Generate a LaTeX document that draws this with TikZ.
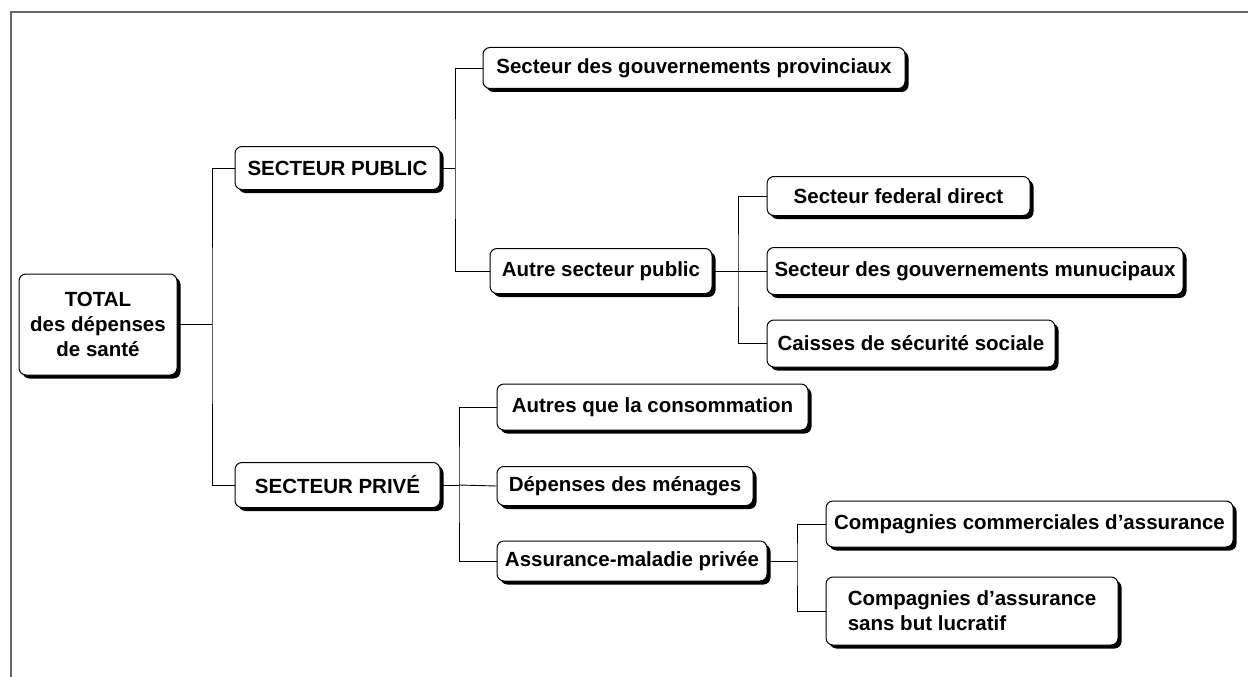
\documentclass[tikz,border=0pt]{standalone}
\usepackage{fontspec}
\setmainfont{Liberation Sans}
\usetikzlibrary{shadows}
\begin{document}
\begin{tikzpicture}[x=1pt, y=-1pt,
	box/.style={draw, line width=1pt, rounded corners=7pt, fill=white, align=center, inner sep=0pt,
		font=\fontsize{20.5}{25}\selectfont\bfseries,
		drop shadow={shadow xshift=3.5pt, shadow yshift=-3.5pt, fill=black, opacity=1}},
	link/.style={line width=0.9pt}]
	\useasboundingbox (0,0) rectangle (1248,677);
	\draw [black!60, line width=2pt] (11,677) -- (11,12) -- (1248,12);

	\node [box, minimum width=158pt, minimum height=101pt] (total) at (98,324.5) {TOTAL\\des dépenses\\de santé};
	\node [box, minimum width=205pt, minimum height=43pt] (pub) at (337.5,168) {SECTEUR PUBLIC};
	\node [box, minimum width=205pt, minimum height=45pt] (priv) at (337.5,485) {SECTEUR PRIVÉ};
	\node [box, minimum width=422pt, minimum height=41pt] (prov) at (694,68) {Secteur des gouvernements provinciaux};
	\node [box, minimum width=222pt, minimum height=45pt] (autre) at (601,271) {Autre secteur public};
	\node [box, minimum width=263pt, minimum height=39pt] (fed) at (898.5,196) {Secteur federal direct};
	\node [box, minimum width=416pt, minimum height=47pt] (mun) at (975,271) {Secteur des gouvernements munucipaux};
	\node [box, minimum width=288pt, minimum height=47pt] (cais) at (911,343.5) {Caisses de sécurité sociale};
	\node [box, minimum width=311pt, minimum height=46pt] (conso) at (652.5,407) {Autres que la consommation};
	\node [box, minimum width=256pt, minimum height=39pt] (men) at (625,486) {Dépenses des ménages};
	\node [box, minimum width=270pt, minimum height=40pt] (assur) at (632,561) {Assurance-maladie privée};
	\node [box, minimum width=407pt, minimum height=46pt] (comm) at (1029.5,524) {Compagnies commerciales d’assurance};
	\node [box, minimum width=292pt, minimum height=68pt, align=left] (lucr) at (972,611) {Compagnies d’assurance\\sans but lucratif};

	\coordinate (jtot) at (212,324.5);
	\coordinate (jpub) at (455,168);
	\coordinate (jaut) at (738,271);
	\coordinate (jpriv) at (459,485);
	\coordinate (jass) at (797,561);

	\draw [link] (total) -- (jtot);
	\draw [link] (pub.west) -| (jtot) |- (priv.west);
	\draw [link] (pub) -- (jpub);
	\draw [link] (prov.west) -| (jpub) |- (autre.west);
	\draw [link] (autre) -- (jaut);
	\draw [link] (fed.west) -| (jaut) |- (cais.west);
	\draw [link] (mun.west) -- (jaut);
	\draw [link] (priv) -- (jpriv);
	\draw [link] (conso.west) -| (jpriv) |- (assur.west);
	\draw [link] (men.west) -- (jpriv);
	\draw [link] (assur) -- (jass);
	\draw [link] (comm.west) -| (jass) |- (lucr.west);
\end{tikzpicture}
\end{document}
